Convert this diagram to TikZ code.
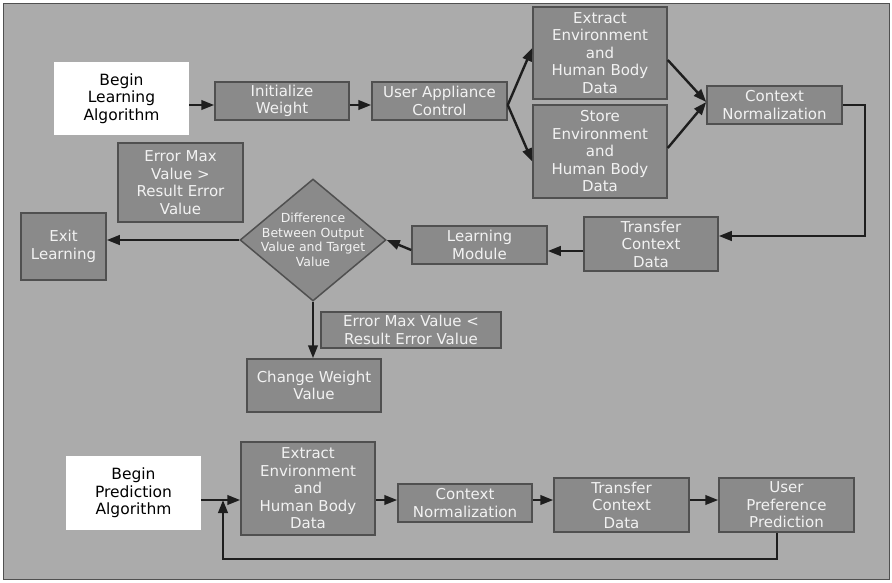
\documentclass[tikz,border=0pt]{standalone}
\usepackage{fontspec}
\setmainfont{DejaVu Sans}
\usetikzlibrary{arrows.meta,shapes.geometric}

\definecolor{panel}{HTML}{ABABAB}
\definecolor{boxfill}{HTML}{8A8A8A}
\definecolor{boxline}{HTML}{505050}
\definecolor{ink}{HTML}{1E1E1E}
\definecolor{paletext}{HTML}{F2F2F2}

\tikzset{
  procbox/.style={draw=boxline, fill=boxfill, line width=1.5pt, text=paletext,
    align=center, inner sep=0pt,
    font=\fontsize{15}{17.5}\selectfont},
  startbox/.style={fill=white, text=black, align=center, inner sep=0pt,
    font=\fontsize{15.5}{17.5}\selectfont},
  decision/.style={diamond, draw=boxline, fill=boxfill, line width=1.5pt,
    inner sep=0pt},
  arr/.style={draw=ink, line width=2.4pt, -{Triangle[length=13pt,width=9.5pt]}},
}

\begin{document}
\begin{tikzpicture}[x=1pt,y=-1pt]
  % page and framed panel
  \fill[white] (0,0) rectangle (892,582);
  \draw[fill=panel, draw=boxline, line width=1pt] (3,3) rectangle (889,579);

  % learning flow
  \node[startbox, minimum width=135, minimum height=73] (bla) at (121.5,98.5) {Begin\\Learning\\Algorithm};
  \node[procbox, minimum width=134, minimum height=38] (iw) at (282,101) {Initialize\\Weight};
  \node[procbox, minimum width=135, minimum height=38] (uac) at (439.5,101) {User Appliance\\Control};
  \node[procbox, minimum width=134, minimum height=92] (ext1) at (600,53) {Extract\\Environment\\and\\Human Body\\Data};
  \node[procbox, minimum width=134, minimum height=93] (sto1) at (600,151.5) {Store\\Environment\\and\\Human Body\\Data};
  \node[procbox, minimum width=135, minimum height=38] (cn1) at (774.5,105) {Context\\Normalization};
  \node[procbox, minimum width=134, minimum height=54] (tcd1) at (651,244) {Transfer\\Context\\Data};
  \node[procbox, minimum width=135, minimum height=38] (lm) at (479.5,245) {Learning\\Module};
  \node[decision, minimum width=146, minimum height=122] (diff) at (313,240) {};
  \node[text=paletext, align=center, inner sep=0pt,
        font=\fontsize{12.5}{14.5}\selectfont] (difftext) at (diff.center)
        {Difference\\Between Output\\Value and Target\\Value};
  \node[procbox, minimum width=85, minimum height=67] (exit) at (63.5,246.5) {Exit\\Learning};
  \node[procbox, minimum width=125, minimum height=79] (emg) at (180.5,182.5) {Error Max\\Value >\\Result Error\\Value};
  \node[procbox, minimum width=180, minimum height=36] (eml) at (411,330) {Error Max Value <\\Result Error Value};
  \node[procbox, minimum width=134, minimum height=53] (cwv) at (314,385.5) {Change Weight\\Value};

  % prediction flow
  \node[startbox, minimum width=135, minimum height=74] (bpa) at (133.5,493) {Begin\\Prediction\\Algorithm};
  \node[procbox, minimum width=134, minimum height=93] (ext2) at (308,488.5) {Extract\\Environment\\and\\Human Body\\Data};
  \node[procbox, minimum width=134, minimum height=38] (cn2) at (465,503) {Context\\Normalization};
  \node[procbox, minimum width=135, minimum height=54] (tcd2) at (621.5,505) {Transfer\\Context\\Data};
  \node[procbox, minimum width=135, minimum height=54] (upp) at (786.5,505) {User\\Preference\\Prediction};

  % attachment points of the connectors
  \coordinate (iwin)  at ([yshift=-4pt]iw.west);
  \coordinate (iwout) at ([yshift=-4pt]iw.east);
  \coordinate (uacin) at ([yshift=-4pt]uac.west);
  \coordinate (uacout) at ([yshift=-4pt]uac.east);
  \coordinate (cnin)  at ([yshift=3pt]cn1.west);
  \coordinate (tcdin) at ([yshift=8pt]tcd1.east);
  \coordinate (tcdout) at ([yshift=-7pt]tcd1.west);
  \coordinate (bpaout) at ([yshift=-7pt]bpa.east);
  \coordinate (pline) at ([yshift=3pt]cn2.west);
  \coordinate (join) at (223,500);

  % learning connectors
  \draw[arr] (bla.east |- iwin) -- (iwin);
  \draw[arr] (iwout) -- (uacin);
  \draw[arr] (uacout) -- ([yshift=5pt]ext1.west);
  \draw[arr] (uacout) -- ([yshift=-10pt]sto1.west);
  \draw[arr] ([yshift=-7pt]ext1.east) -- (cnin);
  \draw[arr] ([yshift=3.5pt]sto1.east) -- (cnin);
  \draw[arr] (cn1.east) -- ++(22,0) |- (tcdin);
  \draw[arr] (tcdout) -- (lm.east |- tcdout);
  \draw[arr] ([yshift=-5pt]lm.west) -- (diff.east);
  \draw[arr] (diff.west) -- (exit.east |- diff.west);
  \draw[arr] (diff.south) -- (cwv.north -| diff.south);

  % prediction connectors
  \draw[arr] (bpaout) -- (ext2.west |- bpaout);
  \draw[arr] (ext2.east |- pline) -- (pline);
  \draw[arr] (cn2.east |- pline) -- (tcd2.west |- pline);
  \draw[arr] (tcd2.east |- pline) -- (upp.west |- pline);
  \draw[arr] ([xshift=-9.5pt]upp.south) -- ++(0,26) -| (join);
\end{tikzpicture}
\end{document}
